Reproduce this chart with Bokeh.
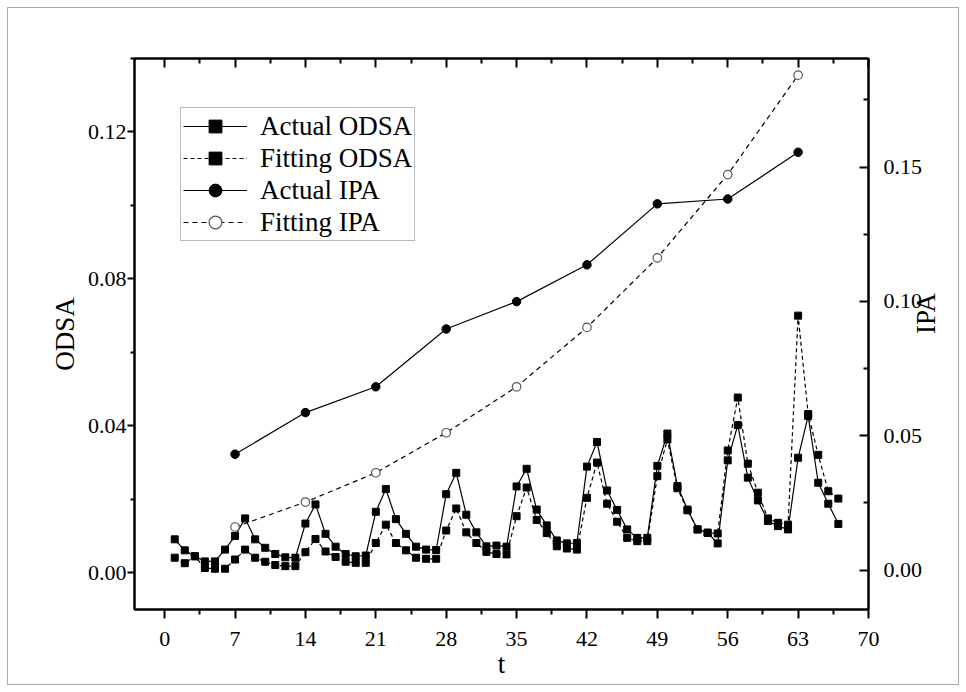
import math
from bokeh.plotting import figure
from bokeh.models import (Range1d, LinearAxis, FixedTicker, PrintfTickFormatter,
                          CustomJSTickFormatter, Legend, LegendItem)
from bokeh.embed import file_html
from bokeh.resources import INLINE

# ---------------- data ----------------
t = list(range(1, 68))
actual_odsa = [0.0091, 0.0061, 0.0045, 0.0031, 0.0031, 0.0063, 0.0100, 0.0148, 0.0091, 0.0068,
               0.0051, 0.0042, 0.0041, 0.0134, 0.0186, 0.0106, 0.0071, 0.0051, 0.0045, 0.0047,
               0.0166, 0.0228, 0.0146, 0.0106, 0.0071, 0.0063, 0.0062, 0.0214, 0.0272, 0.0158,
               0.0110, 0.0072, 0.0074, 0.0071, 0.0235, 0.0283, 0.0172, 0.0129, 0.0088, 0.0080,
               0.0081, 0.0289, 0.0356, 0.0224, 0.0171, 0.0118, 0.0095, 0.0095, 0.0291, 0.0379,
               0.0236, 0.0172, 0.0118, 0.0109, 0.0080, 0.0306, 0.0402, 0.0259, 0.0197, 0.0141,
               0.0127, 0.0118, 0.0313, 0.0427, 0.0245, 0.0188, 0.0133]
fitting_odsa = [0.0041, 0.0026, 0.0045, 0.0013, 0.0011, 0.0011, 0.0036, 0.0063, 0.0041, 0.0030,
                0.0021, 0.0018, 0.0018, 0.0056, 0.0092, 0.0058, 0.0043, 0.0030, 0.0027, 0.0027,
                0.0081, 0.0131, 0.0081, 0.0061, 0.0041, 0.0038, 0.0038, 0.0115, 0.0175, 0.0110,
                0.0081, 0.0057, 0.0051, 0.0050, 0.0154, 0.0232, 0.0144, 0.0108, 0.0072, 0.0066,
                0.0063, 0.0204, 0.0300, 0.0188, 0.0139, 0.0095, 0.0086, 0.0086, 0.0263, 0.0363,
                0.0230, 0.0170, 0.0118, 0.0109, 0.0107, 0.0333, 0.0477, 0.0297, 0.0218, 0.0148,
                0.0136, 0.0131, 0.0700, 0.0432, 0.0321, 0.0222, 0.0202]
t_ipa = [7, 14, 21, 28, 35, 42, 49, 56, 63]
actual_ipa = [0.0431, 0.0586, 0.0682, 0.0897, 0.0999, 0.1136, 0.1363, 0.1381, 0.1555]
fitting_ipa = [0.0160, 0.0253, 0.0362, 0.0511, 0.0682, 0.0903, 0.1162, 0.1472, 0.1842]

x_ticks = [0, 7, 14, 21, 28, 35, 42, 49, 56, 63, 70]
odsa_ticks = [0.00, 0.04, 0.08, 0.12]
ipa_ticks = [0.00, 0.05, 0.10, 0.15]

FONT = "Liberation Serif"


def mids(ticks):
    step = ticks[1] - ticks[0]
    return [ticks[0] - step / 2] + [(a + b) / 2 for a, b in zip(ticks[:-1], ticks[1:])] + [ticks[-1] + step / 2]


p = figure(width=950, height=676, output_backend="svg", toolbar_location=None,
           x_range=Range1d(-3, 70), y_range=Range1d(-0.01, 0.14),
           min_border_left=126, min_border_right=86, min_border_top=50, min_border_bottom=75,
           background_fill_color="white", border_fill_color="white")
p.styles = {"margin": "8px", "outline": "1px solid #aaaaaa"}
p.grid.visible = False
p.outline_line_color = "black"
p.outline_line_width = 2

p.extra_y_ranges = {"ipa": Range1d(-0.0147, 0.1904)}

# bottom axis
xa = p.xaxis[0]
xa.ticker = FixedTicker(ticks=x_ticks, minor_ticks=mids(x_ticks))
xa.axis_label = "t"

# left axis
ya = p.yaxis[0]
ya.ticker = FixedTicker(ticks=odsa_ticks, minor_ticks=mids(odsa_ticks))
ya.formatter = PrintfTickFormatter(format="%.2f")
ya.axis_label = "ODSA"

# right axis with tick labels
ra = LinearAxis(y_range_name="ipa",
                ticker=FixedTicker(ticks=ipa_ticks, minor_ticks=mids(ipa_ticks)),
                formatter=PrintfTickFormatter(format="%.2f"))
p.add_layout(ra, "right")

# outer right axis: only the "IPA" title, reading bottom-to-top
ra2 = LinearAxis(y_range_name="ipa", axis_label="IPA", ticker=FixedTicker(ticks=[]))
p.add_layout(ra2, "right")

# top axis (ticks only)
ta = LinearAxis(ticker=FixedTicker(ticks=x_ticks, minor_ticks=mids(x_ticks)),
                formatter=CustomJSTickFormatter(code="return '';"))
ta.major_label_standoff = 0
p.add_layout(ta, "above")

for ax in (xa, ya, ra, ra2, ta):
    ax.axis_line_color = "black"
    ax.axis_line_width = 2
    ax.major_tick_line_color = "black"
    ax.minor_tick_line_color = "black"
    ax.major_tick_line_width = 2
    ax.minor_tick_line_width = 2
    ax.major_label_text_font = FONT
    ax.major_label_text_color = "black"
    ax.major_label_text_font_size = "22px"
    ax.axis_label_text_font = FONT
    ax.axis_label_text_font_style = "normal"
    ax.axis_label_text_color = "black"
    ax.axis_label_text_font_size = "27px"

xa.major_tick_out = 9
xa.minor_tick_out = 5
ya.major_tick_out = 7
ya.minor_tick_out = 4
for ax in (xa, ya):
    ax.major_tick_in = 0
    ax.minor_tick_in = 0

xa.major_label_standoff = 13
xa.axis_label_standoff = 0
ya.major_label_standoff = 1
ya.axis_label_standoff = 5

for ax in (ra, ta):
    ax.major_tick_out = 0
    ax.major_tick_in = 9
    ax.minor_tick_out = 0
    ax.minor_tick_in = 5

ra.major_label_standoff = 15

ra2.axis_line_color = None
ra2.major_tick_in = 0
ra2.major_tick_out = 0
ra2.minor_tick_in = 0
ra2.minor_tick_out = 0
ra2.major_label_standoff = 0
ra2.axis_label_standoff = 0
ra2.axis_label_orientation = math.pi / 2
ra2.axis_label_text_baseline = "top"

# ---------------- series ----------------
l1 = p.line(t, actual_odsa, line_color="black", line_width=1.2)
s1 = p.scatter(t, actual_odsa, marker="square", size=7, fill_color="black", line_color="black")

l2 = p.line(t, fitting_odsa, line_color="black", line_width=1.2, line_dash="4 3")
s2 = p.scatter(t, fitting_odsa, marker="square", size=7, fill_color="black", line_color="black")

l3 = p.line(t_ipa, actual_ipa, line_color="black", line_width=1.2, y_range_name="ipa")
s3 = p.scatter(t_ipa, actual_ipa, marker="circle", size=8.5, fill_color="black", line_color="black",
               y_range_name="ipa")

l4 = p.line(t_ipa, fitting_ipa, line_color="black", line_width=1.2, line_dash="5 4", y_range_name="ipa")
s4 = p.scatter(t_ipa, fitting_ipa, marker="circle", size=8.5, fill_color="white", line_color="#555555",
               line_width=1.2, y_range_name="ipa")

legend = Legend(items=[
    LegendItem(label="Actual ODSA", renderers=[l1, s1]),
    LegendItem(label="Fitting ODSA", renderers=[l2, s2]),
    LegendItem(label="Actual IPA", renderers=[l3, s3]),
    LegendItem(label="Fitting IPA", renderers=[l4, s4]),
], location=(46, 368))
legend.label_text_font = FONT
legend.label_text_font_size = "27px"
legend.label_text_color = "black"
legend.glyph_width = 64
legend.glyph_height = 32
legend.label_height = 32
legend.label_standoff = 13
legend.spacing = 0
legend.padding = 2
legend.margin = 0
legend.border_line_color = "#777777"
legend.border_line_width = 1.5
legend.background_fill_color = "white"
legend.background_fill_alpha = 1
p.add_layout(legend)

open("out.html", "w").write(file_html(p, INLINE))
